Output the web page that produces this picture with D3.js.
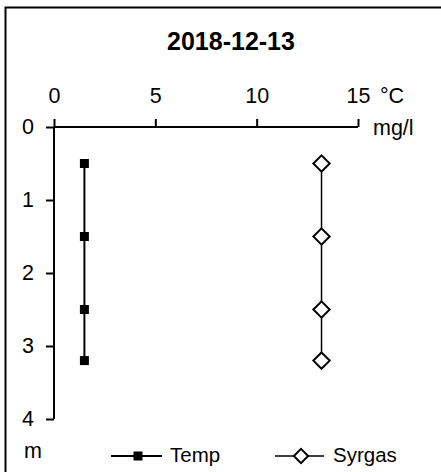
<!DOCTYPE html>
<html><head><meta charset="utf-8">
<script src="https://cdn.jsdelivr.net/npm/d3@7"></script>
<style>body{margin:0;background:#fff}svg{display:block;font-family:"Liberation Sans",Arial,sans-serif}</style>
</head><body><svg id="c" width="441" height="472"></svg>
<script>
const title = "2018-12-13";
const depths = [0.5, 1.5, 2.5, 3.2];
const tempValues = [1.5, 1.5, 1.5, 1.5];
const syrgasValues = [13.2, 13.2, 13.2, 13.2];
const xTicks = [0, 5, 10, 15];
const yTicks = [0, 1, 2, 3, 4];
const seriesNames = ["Temp", "Syrgas"];

const svg = d3.select("#c");
svg.append("rect").attr("x",5.5).attr("y",7.5).attr("width",600).attr("height",600)
  .attr("fill","none").attr("stroke","#000").attr("stroke-width",2);

const x = d3.scaleLinear().domain([0,15]).range([54,358]);
const y = d3.scaleLinear().domain([0,4]).range([127,419]);

svg.append("text").attr("x",231).attr("y",50).attr("text-anchor","middle")
  .attr("font-weight","bold").attr("font-size",25).text(title);

const xa = svg.append("g").attr("transform","translate(0,127)")
  .call(d3.axisTop(x).tickValues(xTicks).tickFormat(d3.format("d")).tickSize(8).tickPadding(16));
const ya = svg.append("g").attr("transform","translate(54,0)")
  .call(d3.axisLeft(y).tickValues(yTicks).tickFormat(d3.format("d")).tickSize(8).tickPadding(12));
[xa,ya].forEach(a=>{
  a.attr("font-size",21.5).attr("font-family","Liberation Sans, Arial, sans-serif");
  a.selectAll("path,line").attr("stroke","#000").attr("stroke-width",2);
  a.selectAll("text").attr("fill","#000");
});
xa.selectAll("text").attr("dy","0");
xa.select(".domain").attr("d","M54,0H358");
ya.select(".domain").attr("d","M0,127V419");

svg.append("text").attr("x",380).attr("y",103).attr("font-size",21.5).text("°C");
svg.append("text").attr("x",373).attr("y",135).attr("font-size",21.5).text("mg/l");
svg.append("text").attr("x",24).attr("y",458).attr("font-size",21.5).text("m");

const line = d3.line().x(d=>x(d[0])).y(d=>y(d[1]));
const tData = tempValues.map((v,i)=>[v,depths[i]]);
const sData = syrgasValues.map((v,i)=>[v,depths[i]]);
svg.append("path").attr("d",line(tData)).attr("fill","none").attr("stroke","#000").attr("stroke-width",2);
svg.append("path").attr("d",line(sData)).attr("fill","none").attr("stroke","#000").attr("stroke-width",1.5);
const sq = d3.symbol().type(d3.symbolSquare).size(81);
const di = d3.symbol().type(d3.symbolDiamond2).size(170);
const diL = d3.symbol().type(d3.symbolDiamond2).size(130);
svg.selectAll(".t").data(tData).join("path").attr("d",sq)
  .attr("transform",d=>`translate(${x(d[0])},${y(d[1])})`).attr("fill","#000");
svg.selectAll(".s").data(sData).join("path").attr("d",di)
  .attr("transform",d=>`translate(${x(d[0])},${y(d[1])})`).attr("fill","#fff").attr("stroke","#000").attr("stroke-width",2);

// legend
const ly = 456;
svg.append("line").attr("x1",111).attr("x2",162).attr("y1",ly).attr("y2",ly).attr("stroke","#000").attr("stroke-width",2);
svg.append("path").attr("d",sq).attr("transform",`translate(138,${ly})`).attr("fill","#000");
svg.append("text").attr("x",170).attr("y",462).attr("font-size",20.5).text(seriesNames[0]);
svg.append("line").attr("x1",275).attr("x2",324).attr("y1",ly).attr("y2",ly).attr("stroke","#000").attr("stroke-width",1.5);
svg.append("path").attr("d",diL).attr("transform",`translate(301,${ly})`).attr("fill","#fff").attr("stroke","#000").attr("stroke-width",2);
svg.append("text").attr("x",333).attr("y",462).attr("font-size",20.5).text(seriesNames[1]);
</script></body></html>
